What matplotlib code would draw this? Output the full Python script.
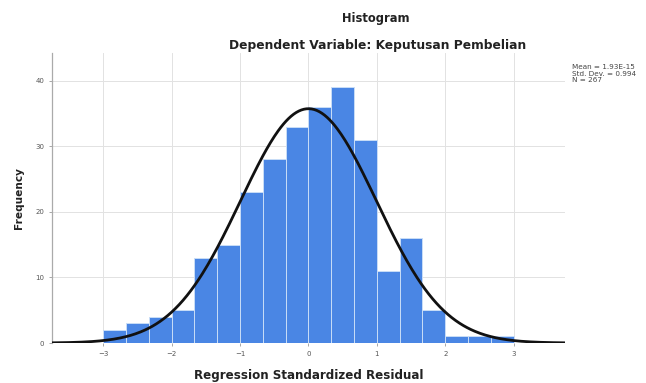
import numpy as np
import matplotlib
matplotlib.use("Agg")
import matplotlib.pyplot as plt

# ---- data ----
counts = [2, 3, 4, 5, 13, 15, 23, 28, 33, 36, 39, 31, 11, 16, 5, 1, 1, 1]
bin_start = -3.0
bin_width = 1.0 / 3.0
mean_val = 1.93e-15
std_val = 0.994
n_val = 267
x_ticks = [-3, -2, -1, 0, 1, 2, 3]
y_ticks = [0, 10, 20, 30, 40]
title = "Histogram"
subtitle = "Dependent Variable: Keputusan Pembelian"
xlabel = "Regression Standardized Residual"
ylabel = "Frequency"
legend_lines = ["Mean = 1.93E-15", "Std. Dev. = 0.994", "N = 267"]

plt.rcParams['font.family'] = ['DejaVu Sans']

fig = plt.figure(figsize=(6.46, 3.83), dpi=100)
ax = fig.add_axes([0.0805, 0.1044, 0.794, 0.757])

edges = bin_start + bin_width * np.arange(len(counts) + 1)
ax.bar(edges[:-1], counts, width=bin_width, align='edge',
       color='#4A86E4', edgecolor='#C9DDF7', linewidth=0.7, zorder=2)

xs = np.linspace(-3.75, 3.75, 400)
pdf = n_val * bin_width / (std_val * np.sqrt(2 * np.pi)) * np.exp(-0.5 * ((xs - mean_val) / std_val) ** 2)
ax.plot(xs, pdf, color='#111111', linewidth=2.0, zorder=3)

ax.set_xlim(-3.75, 3.75)
ax.set_ylim(0, 44.2)
ax.set_xticks(x_ticks)
ax.set_yticks(y_ticks)
ax.grid(True, color='#E2E2E2', linewidth=0.7, zorder=0)
ax.set_axisbelow(True)
for s in ['top', 'right', 'bottom']:
    ax.spines[s].set_visible(False)
ax.spines['left'].set_color('#AAAAAA')
ax.spines['left'].set_linewidth(0.9)
ax.tick_params(axis='both', labelsize=5, colors='#999999', length=2, width=0.6,
               labelcolor='#555555')

ax.set_xlabel(xlabel, fontsize=8.6, fontweight='bold', color='#222222', labelpad=9)
ax.set_ylabel(ylabel, fontsize=7.6, fontweight='bold', color='#222222', labelpad=8)

fig.text(0.582, 0.953, title, ha='center', va='center', fontsize=8.3,
         fontweight='bold', color='#222222')
fig.text(0.585, 0.882, subtitle, ha='center', va='center', fontsize=8.8,
         fontweight='bold', color='#222222')

fig.text(0.885, 0.832, "\n".join(legend_lines), ha='left', va='top',
         fontsize=5.2, color='#444444', linespacing=1.05)

fig.savefig("out.png", dpi=100)
